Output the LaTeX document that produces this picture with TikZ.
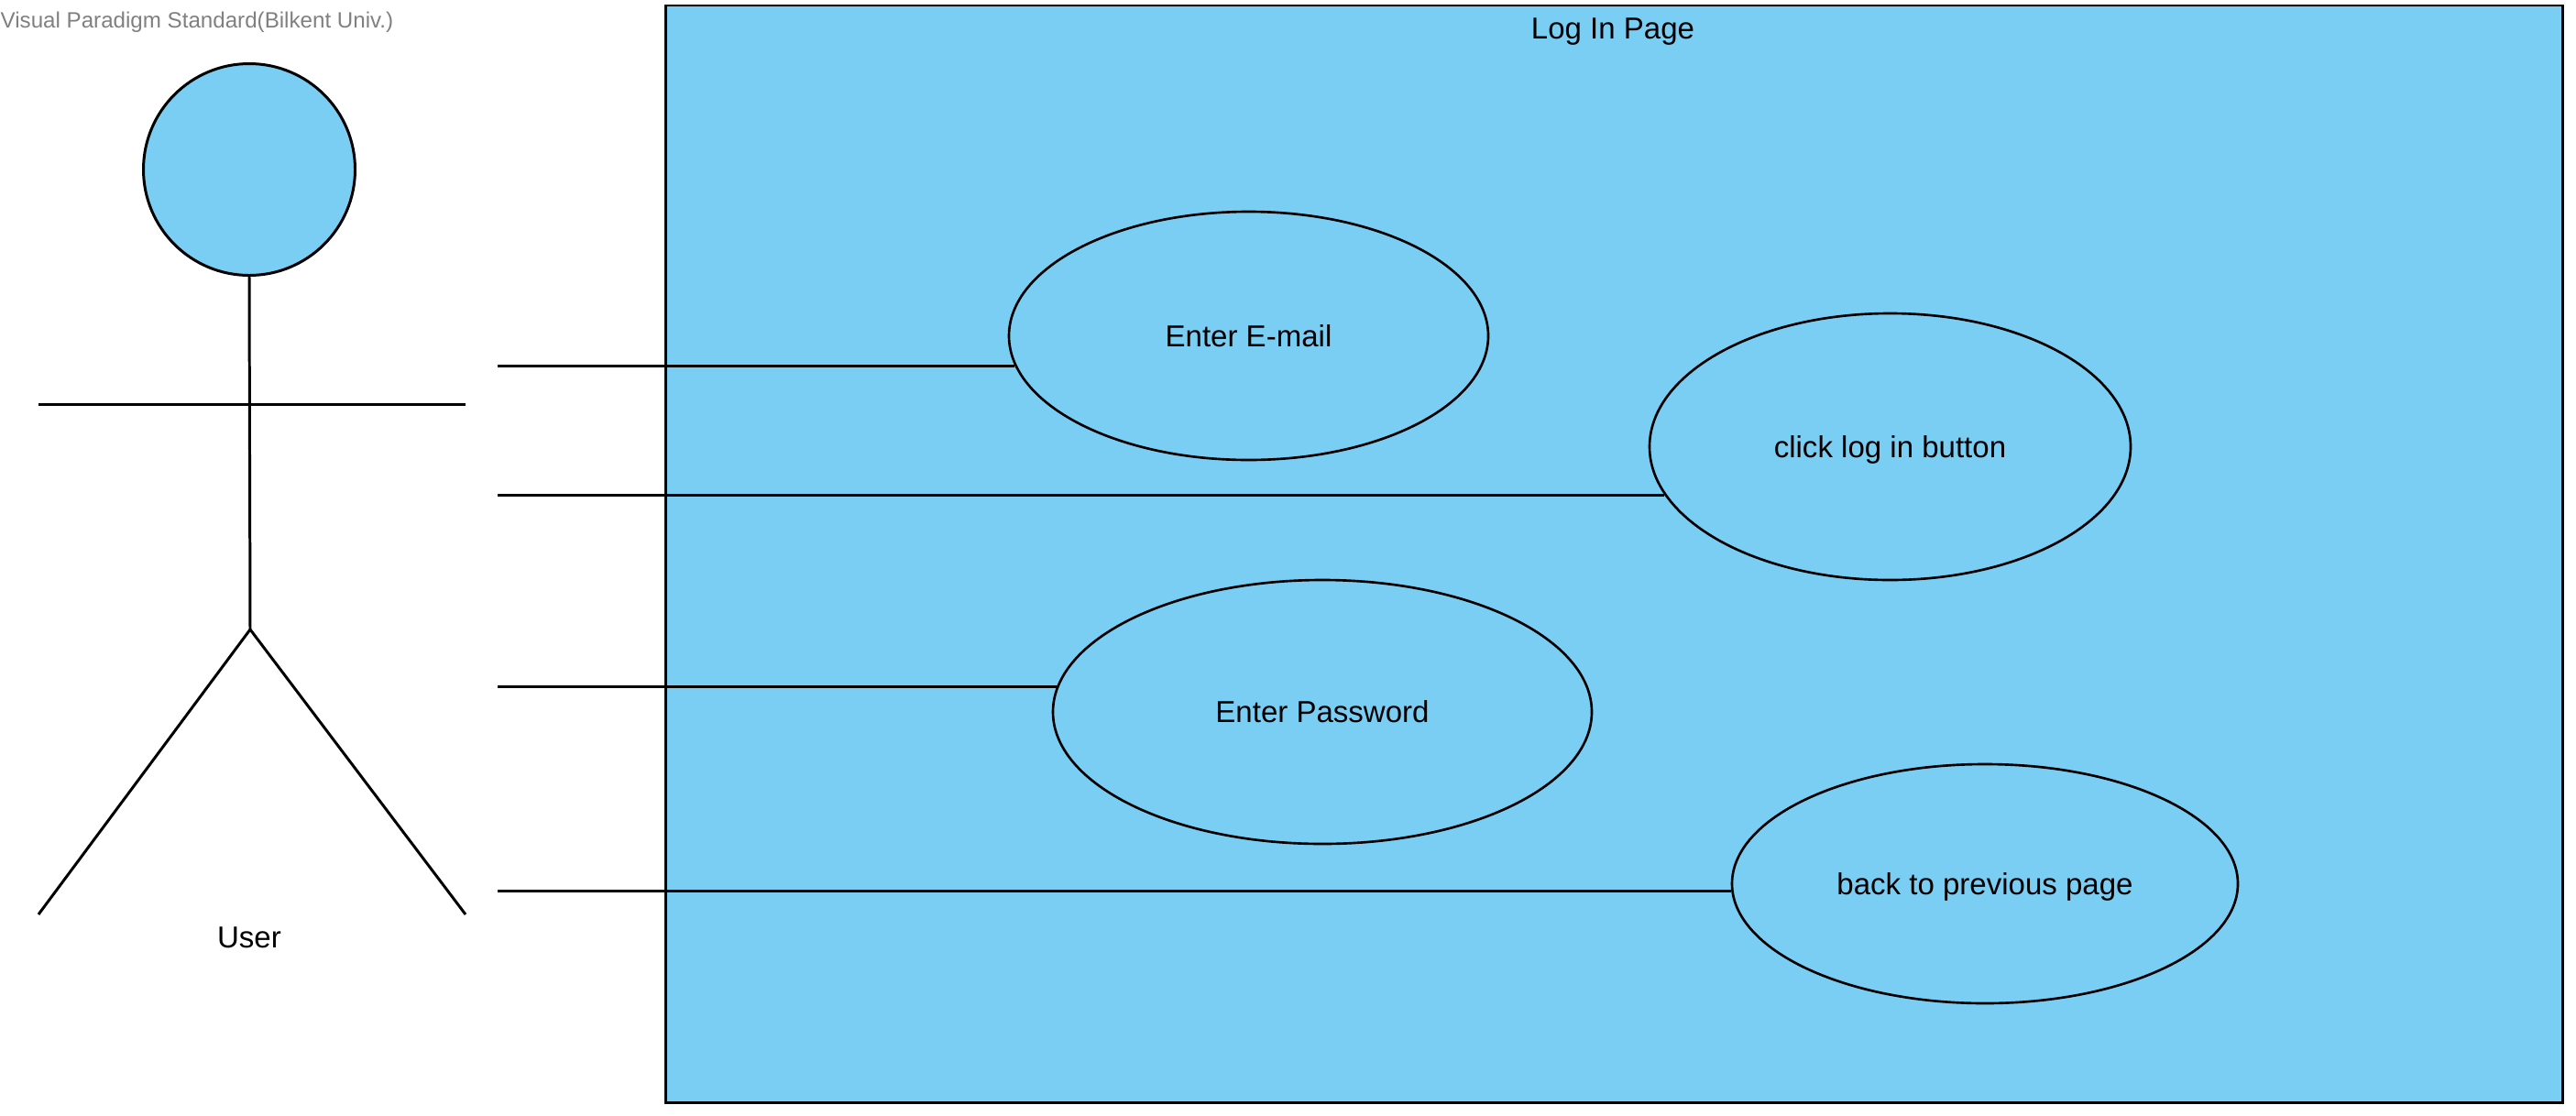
\documentclass[tikz,border=0pt]{standalone}
\usepackage{xcolor}
\usepackage{fontspec}
\setmainfont{Liberation Sans}
\usetikzlibrary{shapes.geometric}
\definecolor{ucblue}{HTML}{7ACEF4}

\begin{document}
\begin{tikzpicture}[
  usecase/.style={draw, ellipse, fill=ucblue, line width=0.75pt, inner sep=0pt,
                  font=\fontsize{9.4pt}{11pt}\selectfont, text height=6.7pt, text depth=0pt},
  lbl/.style={font=\fontsize{9.4pt}{11pt}\selectfont, inner sep=0pt, text height=6.7pt, text depth=0pt},
  assoc/.style={line width=0.85pt},
  limb/.style={line width=0.85pt}
]
  \useasboundingbox (0,0) rectangle (28.11,-12.18);

  % System box
  \node[draw, fill=ucblue, line width=0.85pt, inner sep=0pt, minimum width=20.70cm, minimum height=11.97cm] (page) at (17.61,-6.045) {};
  \node[lbl] (title) at (17.60,-0.31) {Log In Page};

  % Watermark
  \node[font=\fontsize{6.87pt}{9pt}\selectfont, text=gray, inner sep=0pt, anchor=west] (mark) at (0,-0.24) {Visual Paradigm Standard(Bilkent Univ.)};

  % Actor
  \node[draw, circle, fill=ucblue, line width=0.85pt, inner sep=0pt, minimum size=2.31cm] (head) at (2.72,-1.85) {};
  \coordinate (hip) at (2.73,-6.87);
  \coordinate (armL) at (0.42,-4.41);
  \coordinate (armR) at (5.08,-4.41);
  \coordinate (footL) at (0.42,-9.98);
  \coordinate (footR) at (5.08,-9.98);
  \draw[limb] (head.south) -- (hip);
  \draw[limb] (armL) -- (armR);
  \draw[limb] (footL) -- (hip) -- (footR);
  \node[lbl] (user) at (2.72,-10.23) {User};

  % Use cases
  \node[usecase, minimum width=5.23cm, minimum height=2.71cm] (email) at (13.625,-3.665) {Enter E-mail};
  \node[usecase, minimum width=5.25cm, minimum height=2.91cm] (login) at (20.625,-4.875) {click log in button};
  \node[usecase, minimum width=5.88cm, minimum height=2.88cm] (password) at (14.43,-7.77) {Enter Password};
  \node[usecase, minimum width=5.52cm, minimum height=2.61cm] (back) at (21.66,-9.645) {back to previous page};

  % Free ends of the associations
  \coordinate (a1) at (5.43,-3.99);
  \coordinate (a2) at (5.43,-5.40);
  \coordinate (a3) at (5.43,-7.49);
  \coordinate (a4) at (5.43,-9.72);

  \draw[assoc] (a1) -- (a1 -| email.187.3);
  \draw[assoc] (a2) -- (a2 -| login.192.1);
  \draw[assoc] (a3) -- (a3 -| password.174.45);
  \draw[assoc] (a4) -- (a4 -| back.181.6);
\end{tikzpicture}
\end{document}
